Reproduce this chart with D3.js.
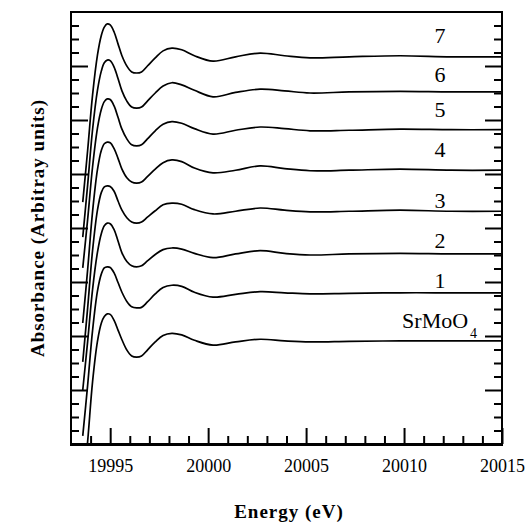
<!DOCTYPE html>
<html>
<head>
<meta charset="utf-8">
<script src="https://cdn.jsdelivr.net/npm/d3@7"></script>
<style>
  body { margin: 0; background: #fff; }
  svg { display: block; }
  text { font-family: "Liberation Serif", "Times New Roman", serif; fill: #000; }
</style>
</head>
<body>
<script>
// energy grid (eV), shared by all spectra
var energy = [19993.6, 19993.85, 19994.1, 19994.35, 19994.55, 19994.7, 19994.85, 19995.0, 19995.2, 19995.4,
              19995.6, 19995.85, 19996.1, 19996.35, 19996.6, 19996.9, 19997.3, 19997.7, 19998.15, 19998.65,
              19999.3, 20000.25, 20001.4, 20002.65, 20003.9, 20005.2, 20007.2, 20009.8, 20012.4, 20015];

// absorbance (stacked, arbitrary units)
var absSrMoO4 = [-0.9, 0.05, 1.15, 1.90, 2.24, 2.36, 2.41, 2.40, 2.29, 2.11, 1.93, 1.74, 1.63, 1.61, 1.63, 1.74, 1.89, 2.01, 2.05, 2.02, 1.92, 1.83, 1.89, 1.94, 1.91, 1.89, 1.90, 1.91, 1.91, 1.91];
var abs1 = [0.15, 1.09, 2.10, 2.83, 3.15, 3.26, 3.28, 3.27, 3.17, 2.99, 2.81, 2.64, 2.54, 2.52, 2.53, 2.63, 2.78, 2.90, 2.94, 2.92, 2.81, 2.72, 2.77, 2.82, 2.80, 2.78, 2.79, 2.80, 2.80, 2.80];
var abs2 = [1.00, 1.90, 2.86, 3.55, 3.90, 4.04, 4.09, 4.08, 3.97, 3.76, 3.54, 3.38, 3.30, 3.28, 3.30, 3.39, 3.51, 3.60, 3.63, 3.61, 3.53, 3.45, 3.52, 3.58, 3.53, 3.50, 3.52, 3.53, 3.52, 3.52];
var abs3 = [1.52, 2.52, 3.58, 4.33, 4.66, 4.76, 4.78, 4.77, 4.68, 4.50, 4.33, 4.19, 4.11, 4.09, 4.11, 4.20, 4.32, 4.43, 4.46, 4.44, 4.34, 4.26, 4.31, 4.37, 4.33, 4.30, 4.31, 4.33, 4.31, 4.31];
var abs4 = [2.24, 3.23, 4.30, 5.08, 5.44, 5.56, 5.59, 5.58, 5.47, 5.29, 5.09, 4.93, 4.85, 4.83, 4.85, 4.95, 5.09, 5.21, 5.26, 5.23, 5.11, 5.02, 5.07, 5.15, 5.10, 5.06, 5.07, 5.09, 5.07, 5.07];
var abs5 = [3.26, 4.16, 5.13, 5.85, 6.20, 6.34, 6.39, 6.38, 6.26, 6.05, 5.83, 5.65, 5.54, 5.52, 5.54, 5.65, 5.80, 5.92, 5.97, 5.94, 5.84, 5.74, 5.81, 5.87, 5.84, 5.80, 5.81, 5.83, 5.82, 5.82];
var abs6 = [3.83, 4.80, 5.82, 6.55, 6.91, 7.06, 7.11, 7.10, 6.98, 6.77, 6.54, 6.35, 6.24, 6.22, 6.24, 6.35, 6.50, 6.63, 6.69, 6.65, 6.55, 6.43, 6.51, 6.57, 6.54, 6.50, 6.52, 6.53, 6.52, 6.52];
var abs7 = [4.48, 5.44, 6.46, 7.20, 7.57, 7.72, 7.78, 7.76, 7.63, 7.41, 7.19, 7.00, 6.89, 6.87, 6.89, 7.00, 7.15, 7.28, 7.33, 7.30, 7.19, 7.09, 7.17, 7.24, 7.19, 7.15, 7.17, 7.19, 7.17, 7.17];

var seriesNames = ["SrMoO4", "1", "2", "3", "4", "5", "6", "7"];
var seriesValues = [absSrMoO4, abs1, abs2, abs3, abs4, abs5, abs6, abs7];

// label anchors in data units
var labelEnergy = [20009.9, 20011.84, 20011.84, 20011.84, 20011.84, 20011.84, 20011.84, 20011.84];
var labelAbs = [2.15, 2.89, 3.63, 4.37, 5.31, 6.06, 6.70, 7.43];

var xMajor = [19995, 20000, 20005, 20010, 20015];

var W = 526, H = 522;
var plotL = 71, plotR = 502, plotT = 12, plotB = 444;

var x = d3.scaleLinear().domain([19993, 20015]).range([plotL, plotR]);
var y = d3.scaleLinear().domain([0, 8]).range([plotB, plotT]);

var svg = d3.select("body").append("svg")
    .attr("width", W)
    .attr("height", H);

svg.append("defs").append("clipPath").attr("id", "plotclip")
    .append("rect")
    .attr("x", plotL).attr("y", plotT)
    .attr("width", plotR - plotL).attr("height", plotB - plotT);

// ticks
var minorX = d3.range(19994, 20015.5, 1).filter(function(d){ return xMajor.indexOf(d) < 0; });
var yMinor = d3.range(0.25, 8, 0.25).filter(function(d){ return d % 1 != 0; });
var yMajor = d3.range(1, 8, 1);

function styleAxis(g){
    g.select(".domain").remove();
    g.selectAll("line").attr("stroke", "#000").attr("stroke-width", 2);
}

svg.append("g").attr("transform", "translate(0," + plotB + ")")
    .call(d3.axisBottom(x).tickValues(minorX).tickSize(-8).tickFormat(""))
    .call(styleAxis);

svg.append("g").attr("transform", "translate(0," + plotB + ")")
    .call(d3.axisBottom(x).tickValues(xMajor).tickSize(-16).tickPadding(15).tickFormat(d3.format("d")))
    .call(styleAxis)
    .selectAll("text")
    .attr("font-size", 18)
    .attr("font-family", "'Liberation Serif', 'Times New Roman', serif");

[[d3.axisLeft, plotL], [d3.axisRight, plotR]].forEach(function(a){
    svg.append("g").attr("transform", "translate(" + a[1] + ",0)")
        .call(a[0](y).tickValues(yMinor).tickSize(-8).tickFormat(""))
        .call(styleAxis);
    svg.append("g").attr("transform", "translate(" + a[1] + ",0)")
        .call(a[0](y).tickValues(yMajor).tickSize(-17).tickFormat(""))
        .call(styleAxis);
});

// curves
var line = d3.line()
    .x(function(d){ return x(d[0]); })
    .y(function(d){ return y(d[1]); })
    .curve(d3.curveCatmullRom.alpha(0.5));

svg.append("g").attr("clip-path", "url(#plotclip)")
    .selectAll("path")
    .data(seriesValues)
    .enter()
    .append("path")
    .attr("d", function(vals){ return line(energy.map(function(e, i){ return [e, vals[i]]; })); })
    .attr("fill", "none")
    .attr("stroke", "#000")
    .attr("stroke-width", 1.7)
    .attr("stroke-linejoin", "round");

// frame
svg.append("rect")
    .attr("x", plotL).attr("y", plotT)
    .attr("width", plotR - plotL).attr("height", plotB - plotT)
    .attr("fill", "none")
    .attr("stroke", "#000")
    .attr("stroke-width", 2);
svg.append("line")
    .attr("x1", plotL - 1).attr("x2", plotR + 1)
    .attr("y1", plotB + 0.5).attr("y2", plotB + 0.5)
    .attr("stroke", "#000").attr("stroke-width", 3);

// series labels
seriesNames.forEach(function(name, i){
    var t = svg.append("text")
        .attr("x", x(labelEnergy[i]))
        .attr("y", y(labelAbs[i]))
        .attr("font-size", 22);
    if (name == "SrMoO4") {
        t.attr("text-anchor", "start");
        t.append("tspan").text("SrMoO");
        t.append("tspan").attr("font-size", 14).attr("dx", 2).attr("dy", 10).text("4");
    } else {
        t.attr("text-anchor", "middle").text(name);
    }
});

// axis titles
svg.append("text")
    .attr("x", 289).attr("y", 518)
    .attr("text-anchor", "middle")
    .attr("font-size", 19)
    .attr("font-weight", "bold")
    .attr("letter-spacing", 1)
    .text("Energy (eV)");

svg.append("text")
    .attr("transform", "translate(44," + ((plotT + plotB) / 2) + ") rotate(-90)")
    .attr("text-anchor", "middle")
    .attr("font-size", 19)
    .attr("font-weight", "bold")
    .attr("letter-spacing", 1)
    .text("Absorbance (Arbitray units)");
</script>
</body>
</html>
